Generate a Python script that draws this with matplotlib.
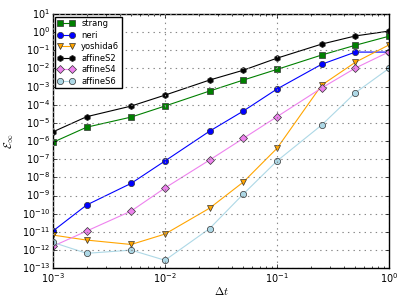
import matplotlib
matplotlib.use("Agg")
import matplotlib.pyplot as plt
import matplotlib.ticker as mticker

dt = [1e-3, 2e-3, 5e-3, 1e-2, 2.5e-2, 5e-2, 1e-1, 2.5e-1, 5e-1, 1.0]

strang = [8.5e-7, 5.8e-6, 2.1e-5, 8.5e-5, 5.7e-4, 2.3e-3, 8.9e-3, 5.5e-2, 0.19, 0.6]
neri = [1.1e-11, 3e-10, 4.7e-9, 8e-8, 3.5e-6, 4.5e-5, 7.4e-4, 1.7e-2, 0.08, 0.08]
yoshida6 = [6.6e-12, 3.5e-12, 2e-12, 7.5e-12, 2e-10, 5.5e-9, 4e-7, 1.2e-3, 2.2e-2, 0.2]
affineS2 = [3.2e-6, 2.2e-5, 8.5e-5, 3.4e-4, 2.3e-3, 8e-3, 3.7e-2, 0.22, 0.62, 1.15]
affineS4 = [1.6e-12, 1.1e-11, 1.4e-10, 2.6e-9, 9e-8, 1.4e-6, 2.2e-5, 8.4e-4, 1.05e-2, 8.3e-2]
affineS6 = [2.6e-12, 6.5e-13, 9.8e-13, 2.7e-13, 1.5e-11, 1.2e-9, 8e-8, 7.6e-6, 4.6e-4, 1.02e-2]

plt.style.use("classic")
fig = plt.figure(figsize=(4.07, 3.05), dpi=100)
ax = fig.add_axes([0.130, 0.121, 0.826, 0.833])

series = [
    ("strang", strang, "g", "s"),
    ("neri", neri, "b", "o"),
    ("yoshida6", yoshida6, "orange", "v"),
    ("affineS2", affineS2, "k", "h"),
    ("affineS4", affineS4, "violet", "D"),
    ("affineS6", affineS6, "lightblue", "o"),
]
for name, vals, col, mk in series:
    ax.loglog(dt, vals, color=col, marker=mk, markersize=4.5, linewidth=0.8,
              markeredgecolor="#333333", markeredgewidth=0.5, label=name)

ax.set_xlim(1e-3, 1)
ax.set_ylim(1e-13, 1e1)
ax.yaxis.set_major_locator(mticker.LogLocator(base=10, numticks=20))
ax.yaxis.set_minor_locator(mticker.NullLocator())
ax.grid(True, which="major", color="#888888", linestyle=":", linewidth=0.8)
ax.tick_params(labelsize=7, pad=2)
ax.tick_params(which="major", length=3)
ax.tick_params(which="minor", length=1.5)
ax.set_xlabel(r"$\Delta t$", fontsize=8, labelpad=0)
ax.set_ylabel(r"$\mathcal{E}_\infty$", fontsize=8, labelpad=4)
ax.legend(loc="upper left", fontsize=6, numpoints=2, borderaxespad=0.3,
          handlelength=2.0, labelspacing=0.3, borderpad=0.3)

fig.savefig("out.png", dpi=100)
